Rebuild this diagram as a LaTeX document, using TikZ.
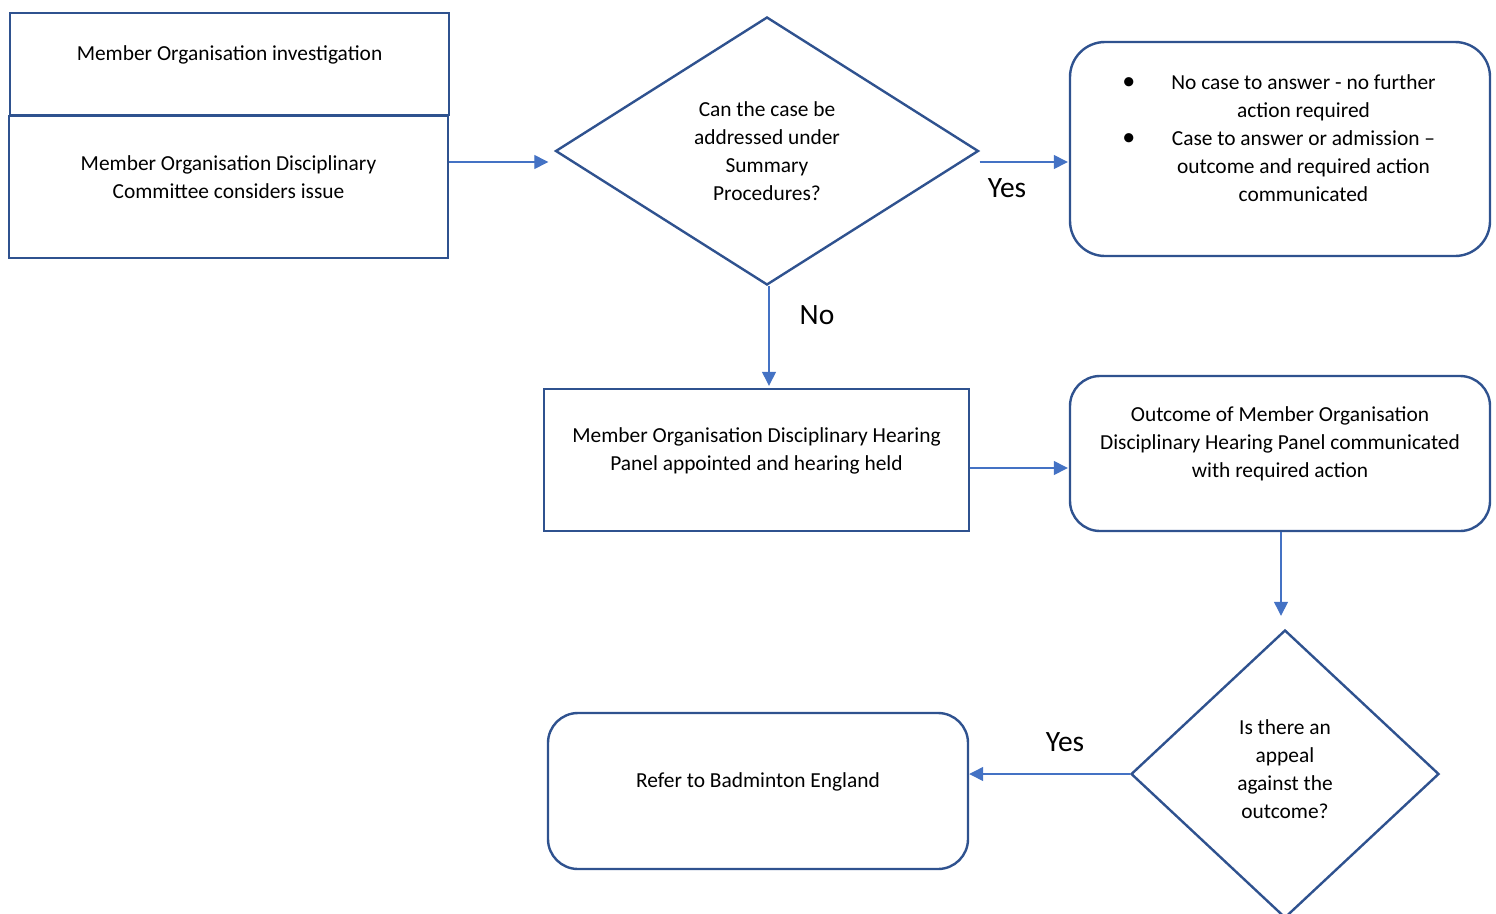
\documentclass[tikz,border=0pt]{standalone}
\usepackage{fontspec}
\setmainfont{Carlito}
\usetikzlibrary{shapes.geometric,arrows.meta}

\definecolor{boxblue}{HTML}{2F528F}
\definecolor{arrowblue}{HTML}{4472C4}

\tikzset{
  outline/.style={draw=boxblue, line width=2.4pt, inner sep=0pt},
  sqbox/.style={outline, rectangle},
  rndbox/.style={outline, rectangle, rounded corners=#1},
  decision/.style={outline, diamond},
  txt/.style={font=\fontsize{21.4}{28}\selectfont, align=center, inner sep=0pt},
  lbl/.style={font=\fontsize{29.5}{32}\selectfont, inner sep=0pt},
  flow/.style={draw=arrowblue, line width=1.3pt, -{Triangle[length=14pt,width=14pt]}}
}

\begin{document}
\begin{tikzpicture}[x=1pt, y=1pt]
    \clip (0,0) rectangle (1496,-913);

    % boxes
    \node[sqbox, minimum width=439pt, minimum height=102pt] (inv) at (229.5,-64) {};
    \node[sqbox, minimum width=439pt, minimum height=142pt] (cttee) at (228.5,-187) {};
    \node[decision, minimum width=423pt, minimum height=268pt] (summ) at (767,-151) {};
    \node[rndbox=35pt, minimum width=420pt, minimum height=214pt] (outA) at (1280,-149) {};
    \node[sqbox, minimum width=425pt, minimum height=142pt] (hear) at (756.5,-460) {};
    \node[rndbox=30pt, minimum width=420pt, minimum height=155pt] (outB) at (1280,-453.5) {};
    \node[decision, minimum width=308pt, minimum height=288pt] (appeal) at (1285,-774) {};
    \node[rndbox=30pt, minimum width=420pt, minimum height=156pt] (refer) at (758,-791) {};

    % texts
    \node[txt] (invT) at ([yshift=9pt]inv.center) {Member Organisation investigation};
    \node[txt] (ctteeT) at ([yshift=10pt]cttee.center) {Member Organisation Disciplinary\\Committee considers issue};
    \node[txt] (summT) at (summ.center) {Can the case be\\addressed under\\Summary\\Procedures?};
    \node[txt] (outAT) at ([xshift=-1pt,yshift=9pt]outA.center) {%
      \begin{tabular}{@{}c@{\hspace{36pt}}c@{}}
        {\fontsize{26}{28}\selectfont\textbullet} & No case to answer - no further\\
                    & action required\\
        {\fontsize{26}{28}\selectfont\textbullet} & Case to answer or admission –\\
                    & outcome and required action\\
                    & communicated
      \end{tabular}};
    \node[txt] (hearT) at ([yshift=9.5pt]hear.center) {Member Organisation Disciplinary Hearing\\Panel appointed and hearing held};
    \node[txt] (outBT) at ([yshift=10pt]outB.center) {Outcome of Member Organisation\\Disciplinary Hearing Panel communicated\\with required action};
    \node[txt] (appealT) at ([yshift=5pt]appeal.center) {Is there an\\appeal\\against the\\outcome?};
    \node[txt] (referT) at ([yshift=9.5pt]refer.center) {Refer to Badminton England};

    % labels
    \node[lbl] (yesA) at (1007,-188) {Yes};
    \node[lbl] (noA) at (817,-315) {No};
    \node[lbl] (yesB) at (1065,-742) {Yes};

    % connectors
    \draw[flow, shorten >=6pt] ([yshift=25pt]cttee.east) -- ([yshift=25pt]cttee.east -| summ.west);
    \draw[flow, shorten >=1pt] ([yshift=-11pt]summ.east) -- ([yshift=-11pt]summ.east -| outA.west);
    \draw[flow, shorten >=2pt] ([xshift=2pt]summ.south) -- ([xshift=2pt]summ.south |- hear.north);
    \draw[flow, shorten >=1pt] ([yshift=-8pt]hear.east) -- ([yshift=-8pt]hear.east -| outB.west);
    \draw[flow, shorten >=13pt] ([xshift=1pt]outB.south) -- ([xshift=1pt]outB.south |- appeal.north);
    \draw[flow] (appeal.west) -- (appeal.west -| refer.east);
  \end{tikzpicture}
\end{document}
